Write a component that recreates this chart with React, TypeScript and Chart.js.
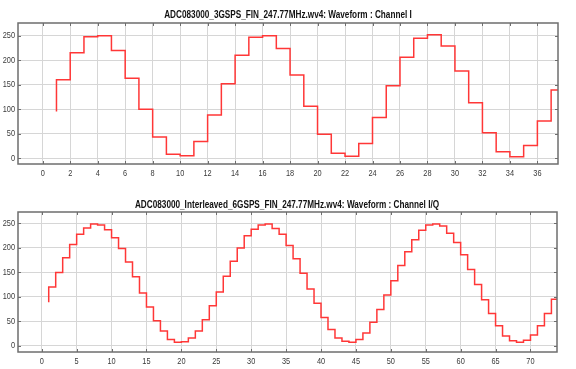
import React, { useEffect, useRef } from 'react';
import { Chart, registerables } from 'chart.js';

Chart.register(...registerables);

const topTitle = 'ADC083000_3GSPS_FIN_247.77MHz.wv4: Waveform : Channel I';
const bottomTitle = 'ADC083000_Interleaved_6GSPS_FIN_247.77MHz.wv4: Waveform : Channel I/Q';

const topStartSample = 1;
const topValues = [
  95, 160, 215, 248, 250, 220, 163, 100, 43, 8, 5, 34, 88, 152, 210, 247, 250, 224, 170,
  106, 49, 10, 4, 30, 83, 148, 206, 245, 252, 229, 178, 113, 52, 13, 3, 26, 76, 139,
];

const bottomStartSample = 1;
const bottomValues = [
  89, 120, 150, 180, 207, 228, 241, 249, 247, 237, 221, 199, 171, 141, 108, 79, 51, 30, 13, 7,
  8, 16, 30, 53, 82, 110, 142, 173, 200, 225, 238, 247, 249, 240, 228, 205, 178, 148, 116, 87,
  58, 33, 16, 9, 7, 13, 26, 48, 74, 104, 133, 164, 192, 217, 236, 247, 249, 245, 230, 211,
  186, 156, 125, 94, 66, 41, 20, 10, 7, 11, 22, 41, 66, 95,
];

const topXTicks = [0, 2, 4, 6, 8, 10, 12, 14, 16, 18, 20, 22, 24, 26, 28, 30, 32, 34, 36];
const bottomXTicks = [0, 5, 10, 15, 20, 25, 30, 35, 40, 45, 50, 55, 60, 65, 70];
const yTicks = [0, 50, 100, 150, 200, 250];

const topXRange = [-1.8, 37.5];
const topYRange = [-12, 276];
const bottomXRange = [-3.4, 73.8];
const bottomYRange = [-12.8, 273.5];

const FONT = '"Liberation Sans", Arial, sans-serif';
const NARROW = 0.82;
const LINE_COLOR = 'rgb(255, 55, 55)';
const GRID_COLOR = '#d6d6d6';
const FRAME_COLOR = '#6e6e6e';
const LABEL_COLOR = '#3a3a3a';

type PanelSpec = {
  values: number[];
  start: number;
  xTicks: number[];
  xRange: number[];
  yRange: number[];
  title: string;
  titleX: number;
  titleY: number;
  padTop: number;
  plotBottom: number;
  canvasH: number;
  padRight: number;
};

function narrowText(ctx: any, text: string, x: number, y: number) {
  ctx.save();
  ctx.translate(x, y);
  ctx.scale(NARROW, 1);
  ctx.fillText(text, 0, 0);
  ctx.restore();
}

function makeConfig(p: PanelSpec): any {
  const points = p.values.map((v, i) => ({ x: p.start + i, y: v }));
  const framePlugin = {
    id: 'frameAndTitle',
    afterDraw(chart: any) {
      const { ctx, chartArea } = chart;
      const xs = chart.scales.x;
      const ys = chart.scales.y;
      ctx.save();
      // inward tick marks
      ctx.strokeStyle = FRAME_COLOR;
      ctx.lineWidth = 1;
      ctx.beginPath();
      const tl = 3;
      p.xTicks.forEach((t) => {
        const px = Math.round(xs.getPixelForValue(t)) + 0.5;
        ctx.moveTo(px, chartArea.bottom);
        ctx.lineTo(px, chartArea.bottom - tl);
        ctx.moveTo(px, chartArea.top);
        ctx.lineTo(px, chartArea.top + tl);
      });
      yTicks.forEach((t) => {
        const py = Math.round(ys.getPixelForValue(t)) + 0.5;
        ctx.moveTo(chartArea.left, py);
        ctx.lineTo(chartArea.left + tl, py);
        ctx.moveTo(chartArea.right, py);
        ctx.lineTo(chartArea.right - tl, py);
      });
      ctx.stroke();
      // frame
      ctx.lineWidth = 1.5;
      ctx.strokeRect(
        chartArea.left,
        chartArea.top,
        chartArea.right - chartArea.left,
        chartArea.bottom - chartArea.top
      );
      // tick labels (narrow)
      ctx.fillStyle = LABEL_COLOR;
      ctx.font = `9px ${FONT}`;
      ctx.textBaseline = 'middle';
      ctx.textAlign = 'center';
      p.xTicks.forEach((t) => {
        narrowText(ctx, String(t), xs.getPixelForValue(t), chartArea.bottom + 10);
      });
      ctx.textAlign = 'right';
      yTicks.forEach((t) => {
        narrowText(ctx, String(t), chartArea.left - 3, ys.getPixelForValue(t));
      });
      // title
      ctx.fillStyle = '#111';
      ctx.font = `bold 10px ${FONT}`;
      ctx.textAlign = 'center';
      narrowText(ctx, p.title, p.titleX, p.titleY);
      ctx.restore();
    },
  };
  return {
    type: 'line',
    data: {
      datasets: [
        {
          data: points,
          borderColor: LINE_COLOR,
          borderWidth: 1.5,
          pointRadius: 0,
          stepped: 'after',
          fill: false,
        },
      ],
    },
    options: {
      animation: false,
      responsive: false,
      devicePixelRatio: 1,
      layout: { padding: { top: p.padTop, right: p.padRight, left: 0, bottom: 0 } },
      plugins: { legend: { display: false }, tooltip: { enabled: false }, title: { display: false } },
      scales: {
        x: {
          type: 'linear',
          min: p.xRange[0],
          max: p.xRange[1],
          afterBuildTicks: (scale: any) => {
            scale.ticks = p.xTicks.map((v) => ({ value: v }));
          },
          afterFit: (scale: any) => {
            scale.height = p.canvasH - p.plotBottom;
          },
          grid: { color: GRID_COLOR, lineWidth: 1, drawTicks: false },
          border: { display: false },
          ticks: { display: false, autoSkip: false },
        },
        y: {
          type: 'linear',
          min: p.yRange[0],
          max: p.yRange[1],
          afterBuildTicks: (scale: any) => {
            scale.ticks = yTicks.map((v) => ({ value: v }));
          },
          afterFit: (scale: any) => {
            scale.width = 18;
          },
          grid: { color: GRID_COLOR, lineWidth: 1, drawTicks: false },
          border: { display: false },
          ticks: { display: false, autoSkip: false },
        },
      },
    },
    plugins: [framePlugin],
  };
}

function Panel({ spec, top, height }: { spec: PanelSpec; top: number; height: number }) {
  const ref = useRef<HTMLCanvasElement | null>(null);
  useEffect(() => {
    if (!ref.current) return;
    const chart = new Chart(ref.current, makeConfig(spec));
    return () => chart.destroy();
  }, []);
  return (
    <canvas
      ref={ref}
      width={576}
      height={height}
      style={{ position: 'absolute', left: 0, top, width: 576, height }}
    />
  );
}

const topSpec: PanelSpec = {
  values: topValues,
  start: topStartSample,
  xTicks: topXTicks,
  xRange: topXRange,
  yRange: topYRange,
  title: topTitle,
  titleX: 288,
  titleY: 15,
  padTop: 23,
  plotBottom: 164,
  canvasH: 185,
  padRight: 18,
};

const bottomSpec: PanelSpec = {
  values: bottomValues,
  start: bottomStartSample,
  xTicks: bottomXTicks,
  xRange: bottomXRange,
  yRange: bottomYRange,
  title: bottomTitle,
  titleX: 287,
  titleY: 20,
  padTop: 27,
  plotBottom: 167,
  canvasH: 184,
  padRight: 19,
};

export default function App() {
  return (
    <div
      style={{
        position: 'absolute',
        left: 0,
        top: 0,
        width: 576,
        height: 369,
        background: '#fff',
        overflow: 'hidden',
      }}
    >
      <Panel spec={topSpec} top={0} height={185} />
      <Panel spec={bottomSpec} top={185} height={184} />
    </div>
  );
}
